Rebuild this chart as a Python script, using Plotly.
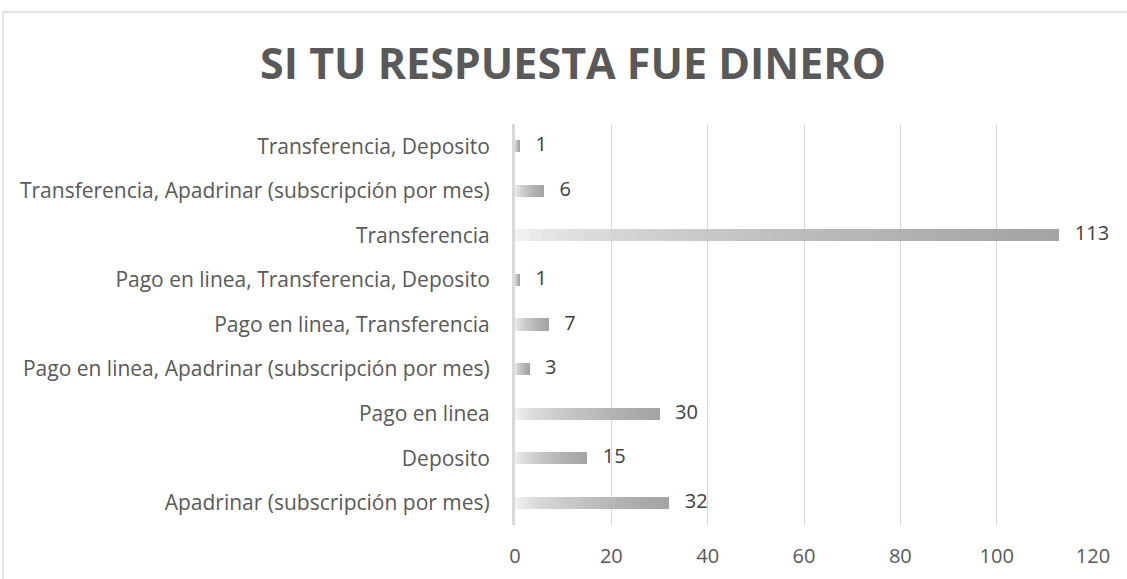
import plotly.graph_objects as go

categories = [
    "Apadrinar (subscripción por mes)",
    "Deposito",
    "Pago en linea",
    "Pago en linea, Apadrinar (subscripción por mes)",
    "Pago en linea, Transferencia",
    "Pago en linea, Transferencia, Deposito",
    "Transferencia",
    "Transferencia, Apadrinar (subscripción por mes)",
    "Transferencia, Deposito",
]
values = [32, 15, 30, 3, 7, 1, 113, 6, 1]
tick_vals = [0, 20, 40, 60, 80, 100, 120]
title_text = "SI TU RESPUESTA FUE DINERO"

FONT = "Open Sans"
N_SEG = 40

fig = go.Figure()

# gradient bars: each bar split into N equal segments, light (left) to gray (right)
for i in range(N_SEG):
    t = (i + 0.5) / N_SEG
    g = int(round(248 - (248 - 163) * (t ** 0.55)))
    fig.add_trace(go.Bar(
        x=[v / N_SEG for v in values],
        y=categories,
        orientation="h",
        marker=dict(color=f"rgb({g},{g},{g})", line=dict(width=0)),
        width=0.27,
        showlegend=False,
        hoverinfo="skip",
    ))

fig.add_trace(go.Scatter(
    x=values,
    y=categories,
    mode="text",
    text=["   " + str(v) for v in values],
    textposition="middle right",
    textfont=dict(family=FONT, size=20, color="#404040"),
    showlegend=False,
    cliponaxis=False,
    hoverinfo="skip",
))

W, H = 1127, 579
L, R, T, B = 515, 34, 124, 54
pw, ph = W - L - R, H - T - B

fig.update_layout(
    width=W, height=H,
    barmode="stack",
    bargap=0,
    paper_bgcolor="white",
    plot_bgcolor="white",
    margin=dict(l=L, r=R, t=T, b=B),
    title=dict(
        text=f"<b>{title_text}</b>",
        x=573 / W, xref="container", xanchor="center",
        y=1 - 64 / H, yanchor="middle",
        font=dict(family=FONT, size=43, color="#595959"),
    ),
    xaxis=dict(
        range=[0, 120],
        tickvals=tick_vals,
        showgrid=True,
        gridcolor="#d9d9d9",
        gridwidth=1,
        zeroline=False,
        showline=False,
        tickfont=dict(family=FONT, size=20, color="#595959"),
        ticks="",
        ticklabelstandoff=17,
        automargin=False,
        fixedrange=True,
    ),
    yaxis=dict(
        categoryorder="array",
        categoryarray=categories,
        showgrid=False,
        zeroline=False,
        showline=True,
        linecolor="#d9d9d9",
        linewidth=3,
        ticks="",
        ticklabelstandoff=18,
        tickfont=dict(family=FONT, size=21, color="#595959"),
        automargin=False,
        fixedrange=True,
    ),
    shapes=[dict(
        type="rect", xref="paper", yref="paper",
        x0=(3 - L) / pw, x1=(W + 20 - L) / pw,
        y0=((H - B) - (H + 20)) / ph, y1=((H - B) - 12) / ph,
        line=dict(color="#d9d9d9", width=1.5),
        fillcolor="rgba(0,0,0,0)",
        layer="below",
    )],
)

fig.write_html(
    "out.html",
    config={"displayModeBar": False},
    post_script="document.body.style.margin='0';document.body.style.overflow='hidden';",
)
